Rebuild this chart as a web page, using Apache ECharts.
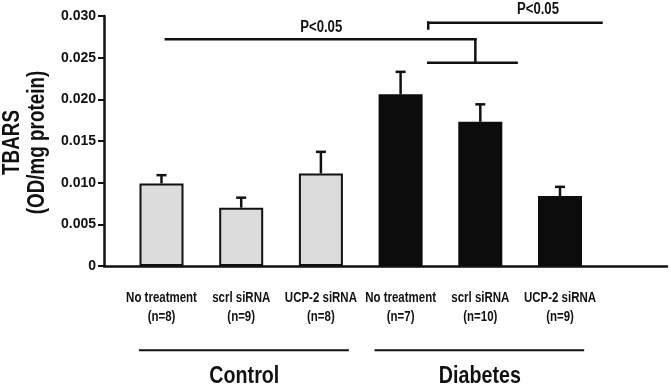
<!DOCTYPE html>
<html>
<head>
<meta charset="utf-8">
<script src="https://cdn.jsdelivr.net/npm/echarts@6/dist/echarts.min.js"></script>
<style>
  html, body { margin: 0; padding: 0; background: #fff; }
  #chart { width: 671px; height: 389px; }
</style>
</head>
<body>
<div id="chart"></div>
<script>
// data
const categories = ['No treatment\n(n=8)', 'scrl siRNA\n(n=9)', 'UCP-2 siRNA\n(n=8)',
                    'No treatment\n(n=7)', 'scrl siRNA\n(n=10)', 'UCP-2 siRNA\n(n=9)'];
const means = [0.0099, 0.0070, 0.0111, 0.0206, 0.0173, 0.0084];
const sems = [0.0010, 0.0012, 0.0026, 0.0027, 0.0021, 0.0011];
const groupOf = ['Control', 'Control', 'Control', 'Diabetes', 'Diabetes', 'Diabetes'];

// brackets, in bar-index units on x and TBARS units on y
const sigLines = [
    [0.065, 0.0272, 3.94, 0.0272],
    [3.94, 0.0272, 3.94, 0.0244],
    [3.35, 0.0244, 4.457, 0.0244],
    [3.35, 0.0285, 3.35, 0.0292],
    [3.35, 0.0292, 5.52, 0.0292]
];
const sigLabels = [[2.01, 0.0286, 'P<0.05'], [4.724, 0.0308, 'P<0.05']];
const groupLines = [[-0.26, -0.0101, 2.344, -0.0101], [2.69, -0.0101, 5.29, -0.0101]];
const groupNames = [[1.047, -0.0133, 'Control'], [3.997, -0.0133, 'Diabetes']];

// no condensed face is installed, so arial-metric bold squeezed horizontally
const FONT = "'Liberation Sans', Arial, sans-serif";
const SQUEEZE = 0.82;
const chart = echarts.init(document.getElementById('chart'));

chart.setOption({
    backgroundColor: '#fff',
    animation: false,
    grid: [
        {left: 104, right: 4, top: 16, bottom: 123},
        {left: 121.65, width: 478.2, top: 16, bottom: 123}
    ],
    graphic: [
        {
            type: 'text', x: 13, y: 142.5, rotation: Math.PI / 2, scaleX: SQUEEZE,
            style: {text: 'TBARS', fontFamily: FONT, fontWeight: 'bold', fontSize: 23, fill: '#111', align: 'center', verticalAlign: 'middle'}
        },
        {
            type: 'text', x: 37.5, y: 142.5, rotation: Math.PI / 2, scaleX: SQUEEZE,
            style: {text: '(OD/mg protein)', fontFamily: FONT, fontWeight: 'bold', fontSize: 23, fill: '#111', align: 'center', verticalAlign: 'middle'}
        }
    ],
    xAxis: [
        {
            type: 'value', gridIndex: 0, min: -0.71, max: 6.34,
            axisLine: {show: true, onZero: false, lineStyle: {color: '#111', width: 2.5}},
            axisTick: {show: false}, axisLabel: {show: false}, splitLine: {show: false}
        },
        {
            type: 'category', gridIndex: 1, data: categories,
            axisLine: {show: false}, axisTick: {show: false}, splitLine: {show: false},
            axisLabel: {show: false}
        }
    ],
    yAxis: [
        {
            type: 'value', gridIndex: 0, min: 0, max: 0.03, interval: 0.005,
            axisLine: {show: true, onZero: false, lineStyle: {color: '#111', width: 2.5}},
            axisTick: {show: true, length: 6, lineStyle: {color: '#111', width: 2}},
            axisLabel: {
                margin: 8, color: '#111', fontWeight: 'bold', fontSize: 14, fontFamily: FONT,
                formatter: v => v === 0 ? '0' : v.toFixed(3)
            },
            splitLine: {show: false}
        },
        {type: 'value', gridIndex: 1, min: 0, max: 0.03, show: false}
    ],
    series: [
        {
            type: 'bar', xAxisIndex: 1, yAxisIndex: 1, barWidth: 44,
            data: means.map((m, i) => ({
                value: m,
                itemStyle: groupOf[i] === 'Control'
                    ? {color: '#dcdcdc', borderColor: '#111', borderWidth: 2}
                    : {color: '#0c0c0c', borderColor: '#0c0c0c', borderWidth: 2}
            }))
        },
        {
            // error bars: stem + cap
            type: 'custom', xAxisIndex: 1, yAxisIndex: 1, clip: false, z: 1,
            data: means.map((m, i) => [i, m, m + sems[i]]),
            renderItem: (params, api) => {
                let base = api.coord([api.value(0), api.value(1)]);
                let top = api.coord([api.value(0), api.value(2)]);
                let st = {stroke: '#111', lineWidth: 2.5};
                return {
                    type: 'group',
                    children: [
                        {type: 'line', shape: {x1: base[0], y1: base[1], x2: top[0], y2: top[1]}, style: st},
                        {type: 'line', shape: {x1: top[0] - 5, y1: top[1], x2: top[0] + 5, y2: top[1]}, style: st}
                    ]
                };
            }
        },
        {
            // category labels under each bar
            type: 'custom', xAxisIndex: 1, yAxisIndex: 1, clip: false,
            data: categories.map((c, i) => [i, 0]),
            renderItem: (params, api) => {
                let p = api.coord([api.value(0), 0]);
                return {
                    type: 'text', x: p[0], y: p[1] + 23, scaleX: SQUEEZE,
                    style: {
                        text: categories[params.dataIndex], fill: '#111', align: 'center', verticalAlign: 'top',
                        fontFamily: FONT, fontWeight: 'bold', fontSize: 14, lineHeight: 19
                    }
                };
            }
        },
        {
            // significance brackets and group underlines
            type: 'custom', xAxisIndex: 0, yAxisIndex: 0, clip: false,
            data: sigLines.concat(groupLines).map(d => [d[0], d[1]]),
            renderItem: (params, api) => {
                let all = sigLines.concat(groupLines);
                let d = all[params.dataIndex];
                let a = api.coord([d[0], d[1]]);
                let b = api.coord([d[2], d[3]]);
                return {
                    type: 'line',
                    shape: {x1: a[0], y1: a[1], x2: b[0], y2: b[1]},
                    style: {stroke: '#111', lineWidth: params.dataIndex < sigLines.length ? 2.5 : 2, lineCap: 'square'}
                };
            }
        },
        {
            type: 'custom', xAxisIndex: 0, yAxisIndex: 0, clip: false,
            data: sigLabels.concat(groupNames).map(d => [d[0], d[1]]),
            renderItem: (params, api) => {
                let isSig = params.dataIndex < sigLabels.length;
                let d = isSig ? sigLabels[params.dataIndex] : groupNames[params.dataIndex - sigLabels.length];
                let p = api.coord([d[0], d[1]]);
                return {
                    type: 'text', x: p[0], y: p[1], scaleX: SQUEEZE,
                    style: {
                        text: d[2], fill: '#111', align: 'center', verticalAlign: 'middle',
                        fontFamily: FONT, fontWeight: 'bold', fontSize: isSig ? 16 : 24
                    }
                };
            }
        }
    ]
});
</script>
</body>
</html>
